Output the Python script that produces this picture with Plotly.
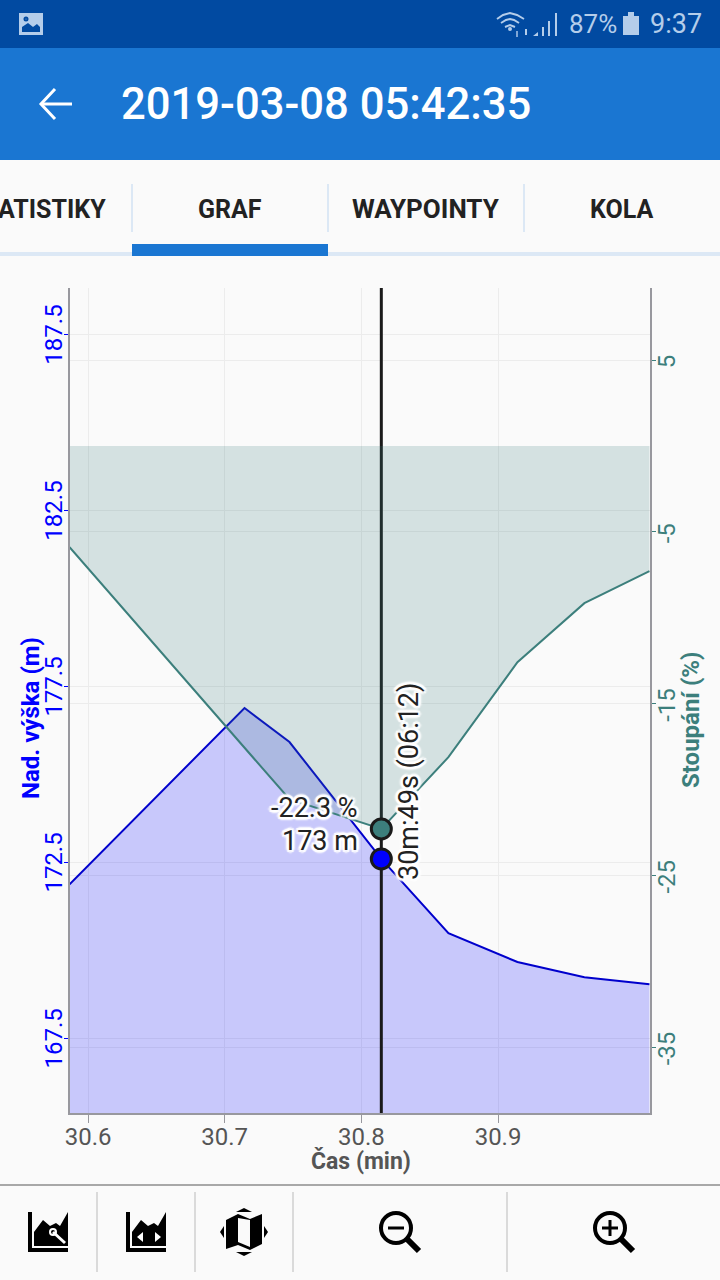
import plotly.graph_objects as go

# values
time_min = [30.5865, 30.7145, 30.7474, 30.8146, 30.8637, 30.9142, 30.9632, 31.0108]
elevation = [171.87, 176.875, 175.91, 172.59, 170.48, 169.66, 169.23, 169.03]
slope = [-5.89, -17.54, -20.57, -22.3, -18.12, -12.59, -9.15, -7.29]

cursor_time = [30.8146]
cursor_elevation = [172.59]
cursor_slope = [-22.3]

x_range = [30.5868, 31.0112]
elev_range = [165.37, 188.81]
slope_range = [-38.84, 9.2]
x_ticks = [30.6, 30.7, 30.8, 30.9]
elev_ticks = [167.5, 172.5, 177.5, 182.5, 187.5]
slope_ticks = [-35, -25, -15, -5, 5]

BLUE = "#0000ff"
TEAL = "#3c7f7c"
GREY = "#555555"
AXIS = "#98989e"
GRID = "#ececec"
BG = "#fafafa"
DARK = "#222222"
PALE = "#b4cdea"
STATUS = "#014aa1"
FONT = "Roboto"

W, H = 720, 1280
L, R, T, B = 70, 70, 288, 167


# helpers for the app screen around the chart, given in screen pixels
def px(x):
    return (x - L) / (W - L - R)


def py(y):
    return 1 - (y - T) / (H - T - B)


def poly(points, close=True):
    path = "M " + " L ".join(f"{px(x):.5f},{py(y):.5f}" for x, y in points)
    return path + (" Z" if close else "")


shapes = []


def rect(x0, y0, x1, y1, color):
    shapes.append(dict(type="rect", xref="paper", yref="paper", x0=px(x0), x1=px(x1),
                       y0=py(y0), y1=py(y1), fillcolor=color, line_width=0, layer="below"))


def fill_poly(points, color):
    shapes.append(dict(type="path", xref="paper", yref="paper", path=poly(points),
                       fillcolor=color, line_width=0))


def stroke(points, color, width):
    shapes.append(dict(type="path", xref="paper", yref="paper", path=poly(points, False),
                       line=dict(color=color, width=width)))


def ring(cx, cy, r, color, width, fill=None):
    shapes.append(dict(type="circle", xref="paper", yref="paper", x0=px(cx - r), x1=px(cx + r),
                       y0=py(cy + r), y1=py(cy - r), fillcolor=fill,
                       line=dict(color=color, width=width)))


texts = []


def label(x, y, text, size, color, anchor="center", angle=0, weight=None, shadow=None, family=FONT):
    font = dict(family=family, size=size, color=color)
    if weight:
        font["weight"] = weight
    if shadow:
        font["shadow"] = shadow
    texts.append(dict(xref="paper", yref="paper", x=px(x), y=py(y), text=text, showarrow=False,
                      xanchor=anchor, yanchor="middle", textangle=angle, font=font))


# bars
rect(0, 0, 720, 48, STATUS)
rect(0, 48, 720, 160, "#1a76d2")
rect(0, 252, 720, 256, "#dce8f5")
rect(132, 244, 328, 256, "#1a76d2")
for x in [132, 328, 524]:
    rect(x - 1, 184, x + 1, 232, "#dce8f5")
rect(0, 1184, 720, 1186, "#a8a8a8")
for x in [97, 195, 293, 507]:
    rect(x - 1, 1192, x + 1, 1272, "#dadada")

# status bar
fill_poly([(19, 13), (43, 13), (43, 35), (19, 35)], PALE)
fill_poly([(22, 32), (22, 27), (28, 23), (33, 27), (37, 24), (40, 27), (40, 32)], STATUS)
ring(26, 19, 1.5, STATUS, 2)
stroke([(497, 19), (503, 15), (510, 13), (517, 15), (524, 19)], PALE, 2)
stroke([(501, 23), (506, 20), (510, 19), (514, 20), (519, 23)], PALE, 2)
stroke([(505, 27), (510, 25), (515, 27)], PALE, 2)
ring(510, 29, 1, PALE, 2)
stroke([(517, 31), (517, 37)], "#7fa6d6", 2)
stroke([(526, 29), (526, 35)], PALE, 2)
fill_poly([(533, 36), (538, 32), (538, 36)], PALE)
for x, top in [(543, 27), (549, 21), (556, 13)]:
    rect(x - 1, top, x + 1, 36, PALE)
label(567, 24, "87%", 26, PALE, "left")
fill_poly([(623, 16), (628, 16), (628, 12), (634, 12), (634, 16), (639, 16), (639, 35), (623, 35)], PALE)
label(648, 24, "9:37", 27, PALE, "left")

# header and tabs
stroke([(55, 89), (41, 104), (55, 119)], "#ffffff", 3)
stroke([(41, 104), (72, 104)], "#ffffff", 3)
label(119, 105, "2019-03-08 05:42:35", 43.6, "#ffffff", "left", weight=500)
label(52, 209, "ATISTIKY", 25, DARK, weight=700)
label(230, 209, "GRAF", 25, DARK, weight=700)
label(426, 209, "WAYPOINTY", 26, DARK, weight=700)
label(622, 209, "KOLA", 25, DARK, weight=700)

# toolbar icons
for x in [28, 126]:
    fill_poly([(x, 1212), (x + 4, 1212), (x + 4, 1248), (x + 40, 1248), (x + 40, 1252), (x, 1252)], "#000000")
    fill_poly([(x + 6, 1246), (x + 6, 1232), (x + 15, 1220), (x + 22, 1226), (x + 28, 1223),
               (x + 32, 1226), (x + 40, 1212), (x + 40, 1246)], "#000000")
stroke([(53, 1232), (65, 1243)], "#ffffff", 3)
ring(53, 1232, 3, "#ffffff", 2)
fill_poly([(137, 1237), (143, 1232), (143, 1242)], "#ffffff")
fill_poly([(161, 1237), (155, 1232), (155, 1242)], "#ffffff")
fill_poly([(226, 1220), (238, 1214), (250, 1219), (262, 1214), (262, 1244),
           (250, 1250), (238, 1245), (226, 1249)], "#000000")
fill_poly([(238, 1218), (250, 1220), (250, 1247), (238, 1242)], BG)
fill_poly([(244, 1208), (252, 1212), (236, 1212)], "#000000")
fill_poly([(244, 1256), (252, 1252), (236, 1252)], "#000000")
fill_poly([(220, 1232), (224, 1226), (224, 1238)], "#000000")
fill_poly([(268, 1232), (264, 1226), (264, 1238)], "#000000")
for cx in [396, 610]:
    ring(cx, 1228, 15, "#000000", 4)
    stroke([(cx + 11, 1239), (cx + 23, 1251)], "#000000", 6)
    stroke([(cx - 8, 1228), (cx + 8, 1228)], "#000000", 3)
stroke([(610, 1220), (610, 1236)], "#000000", 3)

# cursor labels with a white halo
HALO = ("-3px 0 2px #fff, 3px 0 2px #fff, 0 -3px 2px #fff, 0 3px 2px #fff, "
        "-2px -2px 1px #fff, 2px 2px 1px #fff, -2px 2px 1px #fff, 2px -2px 1px #fff")
label(360, 808, f"{cursor_slope[0]} %", 27, DARK, "right", shadow=HALO)
label(360, 841, f"{round(cursor_elevation[0])} m", 27, DARK, "right", shadow=HALO)
label(409, 782, "30m:49s (06:12)", 27, DARK, angle=-90, shadow=HALO)

# axis titles
label(31, 718, "Nad. výška (m)", 24, BLUE, angle=-90, weight=700)
label(691, 720, "Stoupání (%)", 24, TEAL, angle=-90, weight=700)
label(361, 1161, "Čas (min)", 23, GREY, weight=700)

fig = go.Figure()

fig.add_trace(go.Scatter(x=time_min, y=slope, yaxis="y2", mode="lines",
                         line=dict(color=TEAL, width=2),
                         fill="tozeroy", fillcolor="rgba(60,127,124,0.2)"))
fig.add_trace(go.Scatter(x=time_min, y=elevation, mode="lines",
                         line=dict(color="#0000cc", width=2),
                         fill="tozeroy", fillcolor="rgba(0,0,255,0.2)"))
fig.add_trace(go.Scatter(x=cursor_time * 2, y=elev_range, mode="lines",
                         line=dict(color="#1a1a1a", width=3)))
fig.add_trace(go.Scatter(x=cursor_time, y=cursor_elevation, mode="markers",
                         marker=dict(color=BLUE, size=20, line=dict(color="#1a1a1a", width=3))))
fig.add_trace(go.Scatter(x=cursor_time, y=cursor_slope, yaxis="y2", mode="markers",
                         marker=dict(color=TEAL, size=20, line=dict(color="#1a1a1a", width=3))))

fig.update_layout(
    width=W, height=H, autosize=False, showlegend=False,
    margin=dict(l=L, r=R, t=T, b=B),
    paper_bgcolor=BG, plot_bgcolor=BG,
    shapes=shapes, annotations=texts,
    font=dict(family=FONT),
    xaxis=dict(range=x_range, tickvals=x_ticks, ticktext=[str(v) for v in x_ticks],
               ticks="outside", ticklen=8, tickcolor=AXIS, tickfont=dict(size=24, color=GREY),
               ticklabelstandoff=-7,
               showline=True, linecolor=AXIS, linewidth=2, gridcolor=GRID, zeroline=False),
    yaxis=dict(range=elev_range, tickvals=elev_ticks, ticktext=[str(v) for v in elev_ticks],
               ticks="outside", ticklen=4, tickcolor=BLUE, tickangle=-90,
               tickfont=dict(size=24, color=BLUE), ticklabelstandoff=-8, ticklabelshift=4,
               showline=True, linecolor=AXIS, linewidth=2, gridcolor=GRID, zeroline=False),
    yaxis2=dict(range=slope_range, tickvals=slope_ticks, ticktext=[str(v) for v in slope_ticks],
                overlaying="y", side="right", anchor="x",
                ticks="outside", ticklen=4, tickcolor=TEAL, tickangle=-90,
                tickfont=dict(size=24, color=TEAL), ticklabelstandoff=-10, ticklabelshift=5,
                showline=True, linecolor=AXIS, linewidth=2, gridcolor=GRID, zeroline=False),
)

fig.write_html("out.html", config=dict(displayModeBar=False),
               post_script="document.body.style.margin='0';document.body.style.overflow='hidden';")
